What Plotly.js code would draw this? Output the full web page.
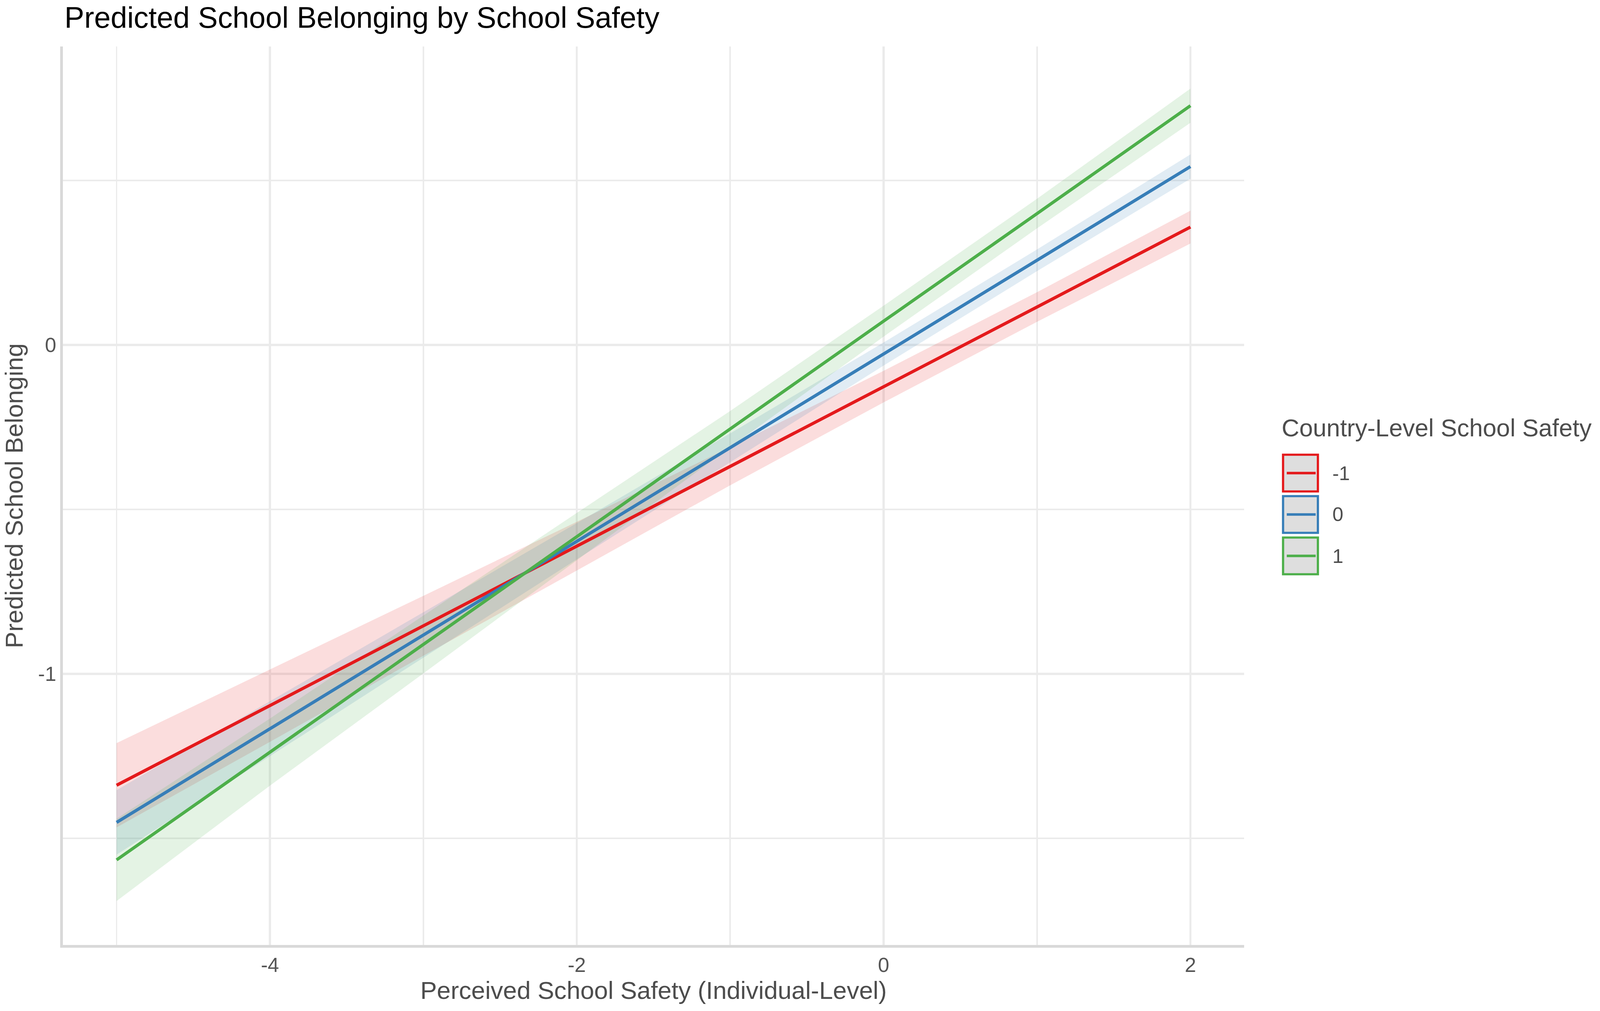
<!DOCTYPE html>
<html>
<head>
<meta charset="utf-8">
<script src="https://cdn.plot.ly/plotly-3.0.1.min.js"></script>
<style>html,body{margin:0;padding:0;background:#fff;overflow:hidden;}</style>
</head>
<body>
<div id="chart"></div>
<script>
// ---- data ----
const xVals = [-5, -4, -3, -2, -1, 0, 1, 2];
const groupNames = ['-1', '0', '1'];

const fitNeg1 = [-1.339, -1.097, -0.854, -0.612, -0.369, -0.127, 0.115, 0.358];
const loNeg1  = [-1.467, -1.207, -0.945, -0.686, -0.427, -0.175, 0.070, 0.308];
const hiNeg1  = [-1.211, -0.987, -0.763, -0.538, -0.311, -0.079, 0.160, 0.408];

const fitZero = [-1.452, -1.167, -0.882, -0.597, -0.313, -0.028, 0.257, 0.542];
const loZero  = [-1.550, -1.250, -0.951, -0.652, -0.357, -0.063, 0.224, 0.505];
const hiZero  = [-1.354, -1.084, -0.813, -0.542, -0.269, 0.007, 0.290, 0.579];

const fitPos1 = [-1.566, -1.238, -0.911, -0.583, -0.256, 0.072, 0.399, 0.727];
const loPos1  = [-1.691, -1.340, -0.999, -0.655, -0.311, 0.025, 0.354, 0.675];
const hiPos1  = [-1.441, -1.136, -0.823, -0.511, -0.201, 0.119, 0.444, 0.779];

const xTickVals = [-4, -2, 0, 2];
const xTickText = ['-4', '-2', '0', '2'];
const xMinorVals = [-5, -3, -1, 1];
const yTickVals = [-1, 0];
const yTickText = ['-1', '0'];
const yMinorVals = [-1.5, -0.5, 0.5];

// ---- styling ----
const colors = ['#E41A1C', '#377EB8', '#4DAF4A'];
const fills = ['rgba(228,26,28,0.15)', 'rgba(55,126,184,0.15)', 'rgba(77,175,74,0.15)'];
const fits = [fitNeg1, fitZero, fitPos1];
const los = [loNeg1, loZero, loPos1];
const his = [hiNeg1, hiZero, hiPos1];

// design is in reference pixels (4317 x 2588); map onto the actual viewport
const BW = 4317, BH = 2588;
const vw = window.innerWidth || BW, vh = window.innerHeight || BH;
const SX = vw / BW, SY = vh / BH, SF = Math.min(SX, SY);
const X = v => v * SX, Y = v => v * SY, F = v => v * SF;
const W = Math.floor(vw), H = Math.floor(vh);
const M = {l: X(170), r: W - X(3357), t: Y(119), b: H - Y(2419)};
const PW = W - M.l - M.r, PH = H - M.t - M.b;
const px2x = p => (X(p) - M.l) / PW;
const px2y = p => 1 - (Y(p) - M.t) / PH;
const FONT = 'Liberation Sans, Arial, Helvetica, sans-serif';

const traces = [];
for (let i = 0; i < 3; i++) {
  const xs = xVals.concat(xVals.slice().reverse());
  const ys = his[i].concat(los[i].slice().reverse());
  traces.push({
    type: 'scatter', mode: 'lines', x: xs, y: ys,
    fill: 'toself', fillcolor: fills[i],
    line: {width: 0, color: 'rgba(0,0,0,0)'},
    hoverinfo: 'skip', showlegend: false
  });
}
for (let i = 0; i < 3; i++) {
  traces.push({
    type: 'scatter', mode: 'lines', x: xVals, y: fits[i],
    name: groupNames[i],
    line: {width: F(8.5), color: colors[i]},
    showlegend: false
  });
}

// manual ggplot-style legend
const shapes = [];
const annotations = [];
const keyTops = [1161, 1267, 1373];
const keySize = 100;
for (let i = 0; i < 3; i++) {
  const x0 = 3462, x1 = x0 + keySize - 6, y0 = keyTops[i] + 3, y1 = keyTops[i] + keySize - 3;
  shapes.push({
    type: 'rect', xref: 'paper', yref: 'paper',
    x0: px2x(x0), x1: px2x(x1), y0: px2y(y1), y1: px2y(y0),
    fillcolor: '#dedede', line: {color: colors[i], width: F(6)}, layer: 'above'
  });
  const yc = keyTops[i] + keySize / 2;
  shapes.push({
    type: 'line', xref: 'paper', yref: 'paper',
    x0: px2x(3472), x1: px2x(3550), y0: px2y(yc), y1: px2y(yc),
    line: {color: colors[i], width: F(7)}, layer: 'above'
  });
  annotations.push({
    xref: 'paper', yref: 'paper', x: px2x(3593), y: px2y(yc),
    xanchor: 'left', yanchor: 'middle', showarrow: false,
    text: groupNames[i], font: {family: FONT, size: F(53), color: '#4d4d4d'}
  });
}
annotations.push({
  xref: 'paper', yref: 'paper', x: px2x(3456), y: px2y(1095),
  xanchor: 'left', yanchor: 'middle', showarrow: false,
  text: 'Country-Level School Safety', font: {family: FONT, size: F(66), color: '#4d4d4d'}
});

const layout = {
  width: W, height: H,
  margin: M,
  paper_bgcolor: '#ffffff', plot_bgcolor: '#ffffff',
  showlegend: false,
  title: {
    text: 'Predicted School Belonging by School Safety',
    font: {family: FONT, size: F(80), color: '#000000'},
    xref: 'container', x: 174 / BW, xanchor: 'left',
    yref: 'container', y: 1 - 44 / BH, yanchor: 'middle'
  },
  xaxis: {
    range: [-5.35, 2.35], tickmode: 'array', tickvals: xTickVals, ticktext: xTickText,
    showgrid: true, gridcolor: '#ebebeb', gridwidth: F(6),
    minor: {tickmode: 'array', tickvals: xMinorVals, showgrid: true, gridcolor: '#ebebeb', gridwidth: F(4), ticks: ''},
    zeroline: false, showline: true, linecolor: '#d9d9d9', linewidth: F(7),
    ticks: '', ticklabelstandoff: 0, automargin: true,
    tickfont: {family: FONT, size: F(55), color: '#555555'},
    title: {text: 'Perceived School Safety (Individual-Level)', font: {family: FONT, size: F(67), color: '#4d4d4d'}, standoff: Y(2)}
  },
  yaxis: {
    range: [-1.8246, 0.907], tickmode: 'array', tickvals: yTickVals, ticktext: yTickText,
    showgrid: true, gridcolor: '#ebebeb', gridwidth: F(6),
    minor: {tickmode: 'array', tickvals: yMinorVals, showgrid: true, gridcolor: '#ebebeb', gridwidth: F(4), ticks: ''},
    zeroline: false, showline: true, linecolor: '#d9d9d9', linewidth: F(7),
    ticks: '', ticklabelstandoff: X(34),
    tickfont: {family: FONT, size: F(55), color: '#555555'},
    title: {text: 'Predicted School Belonging', font: {family: FONT, size: F(67), color: '#4d4d4d'}}
  },
  shapes: shapes,
  annotations: annotations
};

Plotly.newPlot('chart', traces, layout, {staticPlot: true, displayModeBar: false});
</script>
</body>
</html>
